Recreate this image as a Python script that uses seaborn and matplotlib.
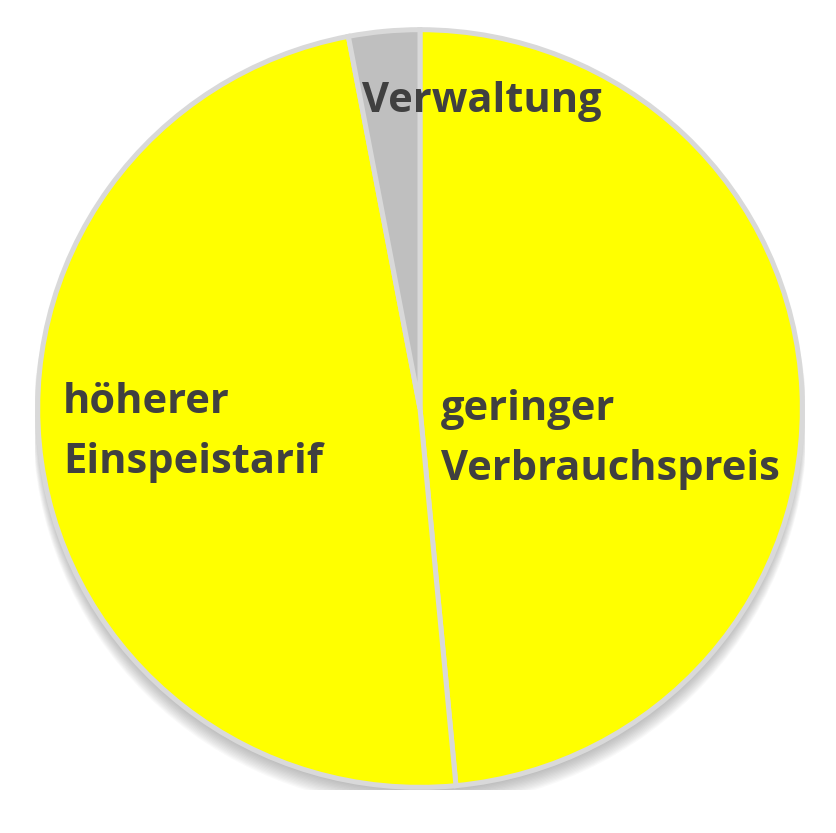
import matplotlib
matplotlib.use("Agg")
import matplotlib.pyplot as plt
import seaborn as sns
from matplotlib.patches import Circle

sns.set_theme(style="white")
plt.rcParams["font.family"] = ["Open Sans", "DejaVu Sans"]

# slices, clockwise from 12 o'clock
labels = ["geringer\nVerbrauchspreis", "höherer\nEinspeistarif", "Verwaltung"]
shares = [48.5, 48.5, 3.0]
colors = ["#ffff00", "#ffff00", "#bfbfbf"]

TEXT = "#404040"
EDGE = "#d9d9d9"

fig = plt.figure(figsize=(8.37, 8.33), dpi=100)
ax = fig.add_axes([35 / 837, 43 / 833, 770 / 837, 763 / 833])

# soft drop shadow underneath the pie
for k in range(14):
    ax.add_patch(Circle((0, -0.008 - k * 0.0024), 0.99 + k * 0.0012,
                        color="#606060", alpha=0.035, lw=0, zorder=0))

wedges, _ = ax.pie(
    shares,
    colors=colors,
    startangle=90,
    counterclock=False,
    radius=0.993,
    wedgeprops=dict(edgecolor=EDGE, linewidth=3.6),
)
for w in wedges:
    w.set_zorder(2)

# label placement (data coords), one entry per slice line
label_pos = {
    "geringer\nVerbrauchspreis": (0.055, -0.030, "left"),
    "höherer\nEinspeistarif": (-0.927, -0.012, "left"),
    "Verwaltung": (0.160, 0.777, "center"),
}
for lab in labels:
    x, y, ha = label_pos[lab]
    for i, line in enumerate(lab.split("\n")):
        ax.text(x, y - i * 0.157, line, ha=ha, va="baseline",
                fontsize=30, fontweight="bold", color=TEXT, zorder=3)

ax.set_xlim(-1, 1)
ax.set_ylim(-1, 1)
ax.set_aspect("auto")
ax.axis("off")

fig.savefig("out.png", dpi=100)
